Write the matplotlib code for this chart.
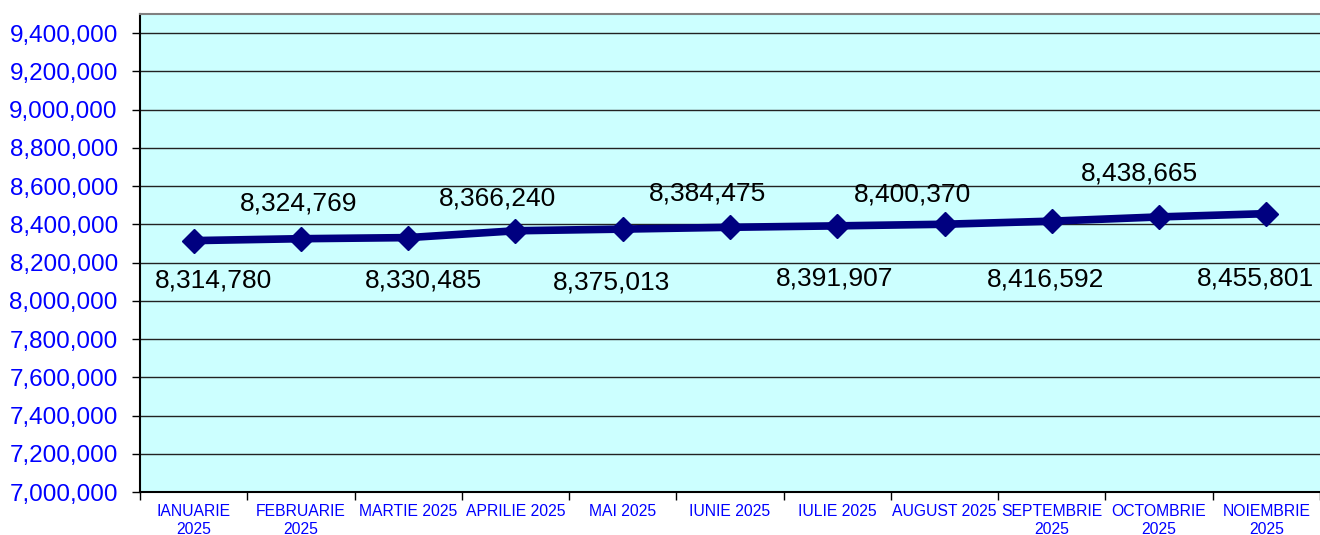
import matplotlib.pyplot as plt
import matplotlib.ticker as mticker
import numpy as np

plt.rcParams['font.family'] = ['Liberation Sans', 'DejaVu Sans']

# data
months = ['IANUARIE\n2025', 'FEBRUARIE\n2025', 'MARTIE 2025', 'APRILIE 2025', 'MAI 2025',
          'IUNIE 2025', 'IULIE 2025', 'AUGUST 2025', 'SEPTEMBRIE\n2025', 'OCTOMBRIE\n2025',
          'NOIEMBRIE\n2025']
values = [8314780, 8324769, 8330485, 8366240, 8375013, 8384475,
          8391907, 8400370, 8416592, 8438665, 8455801]
yticks = list(range(7000000, 9400001, 200000))

# label offsets in pixels (dx, dy)
label_dx = [20, -2, 15, -18, -11, -22, -3, -32, -6, -20, -11]
label_dy = [-40, 35, -43, 32, -53, 34, -53, 30, -58, 43, -65]

fig = plt.figure(figsize=(13.2, 5.35), dpi=100)
ax = fig.add_axes([140/1320, 43/535, 1 - 140/1320, (492-14)/535])
ax.set_facecolor('#CCFFFF')

x = np.arange(len(values))
ax.plot(x, values, color='#000080', lw=5.5, marker='D', markersize=12,
        markerfacecolor='#000080', markeredgecolor='#000080', zorder=3)

for i, v in enumerate(values):
    ax.annotate(f'{v:,}', (x[i], v), xytext=(label_dx[i], label_dy[i]),
                textcoords='offset pixels', ha='center', va='center',
                fontsize=19, color='black', zorder=4)

ax.set_xlim(-0.5, len(values) - 0.5)
ax.set_ylim(7000000, 9500000)
ax.set_yticks(yticks)
ax.yaxis.set_major_formatter(mticker.FuncFormatter(lambda v, p: f'{int(v):,}'))
ax.yaxis.grid(True, color='#222222', lw=1.0)
ax.set_axisbelow(True)

ax.set_xticks(x)
ax.set_xticklabels(months, fontsize=11.3, color='#0000FF', va='top', linespacing=1.2)
ax.set_xticks(np.arange(-0.5, len(values)), minor=True)
ax.tick_params(axis='x', which='major', length=0, pad=9)
ax.tick_params(axis='x', which='minor', length=6, width=1, color='black', direction='out')
ax.tick_params(axis='y', labelsize=17.5, labelcolor='#0000FF', length=6, width=1,
               direction='out', pad=10)

ax.spines['left'].set_color('black')
ax.spines['left'].set_linewidth(1.5)
ax.spines['bottom'].set_color('black')
ax.spines['bottom'].set_linewidth(1.5)
ax.spines['top'].set_color('#808080')
ax.spines['top'].set_linewidth(1.5)
ax.spines['right'].set_visible(False)

fig.savefig('out.png', dpi=100, facecolor='white')
